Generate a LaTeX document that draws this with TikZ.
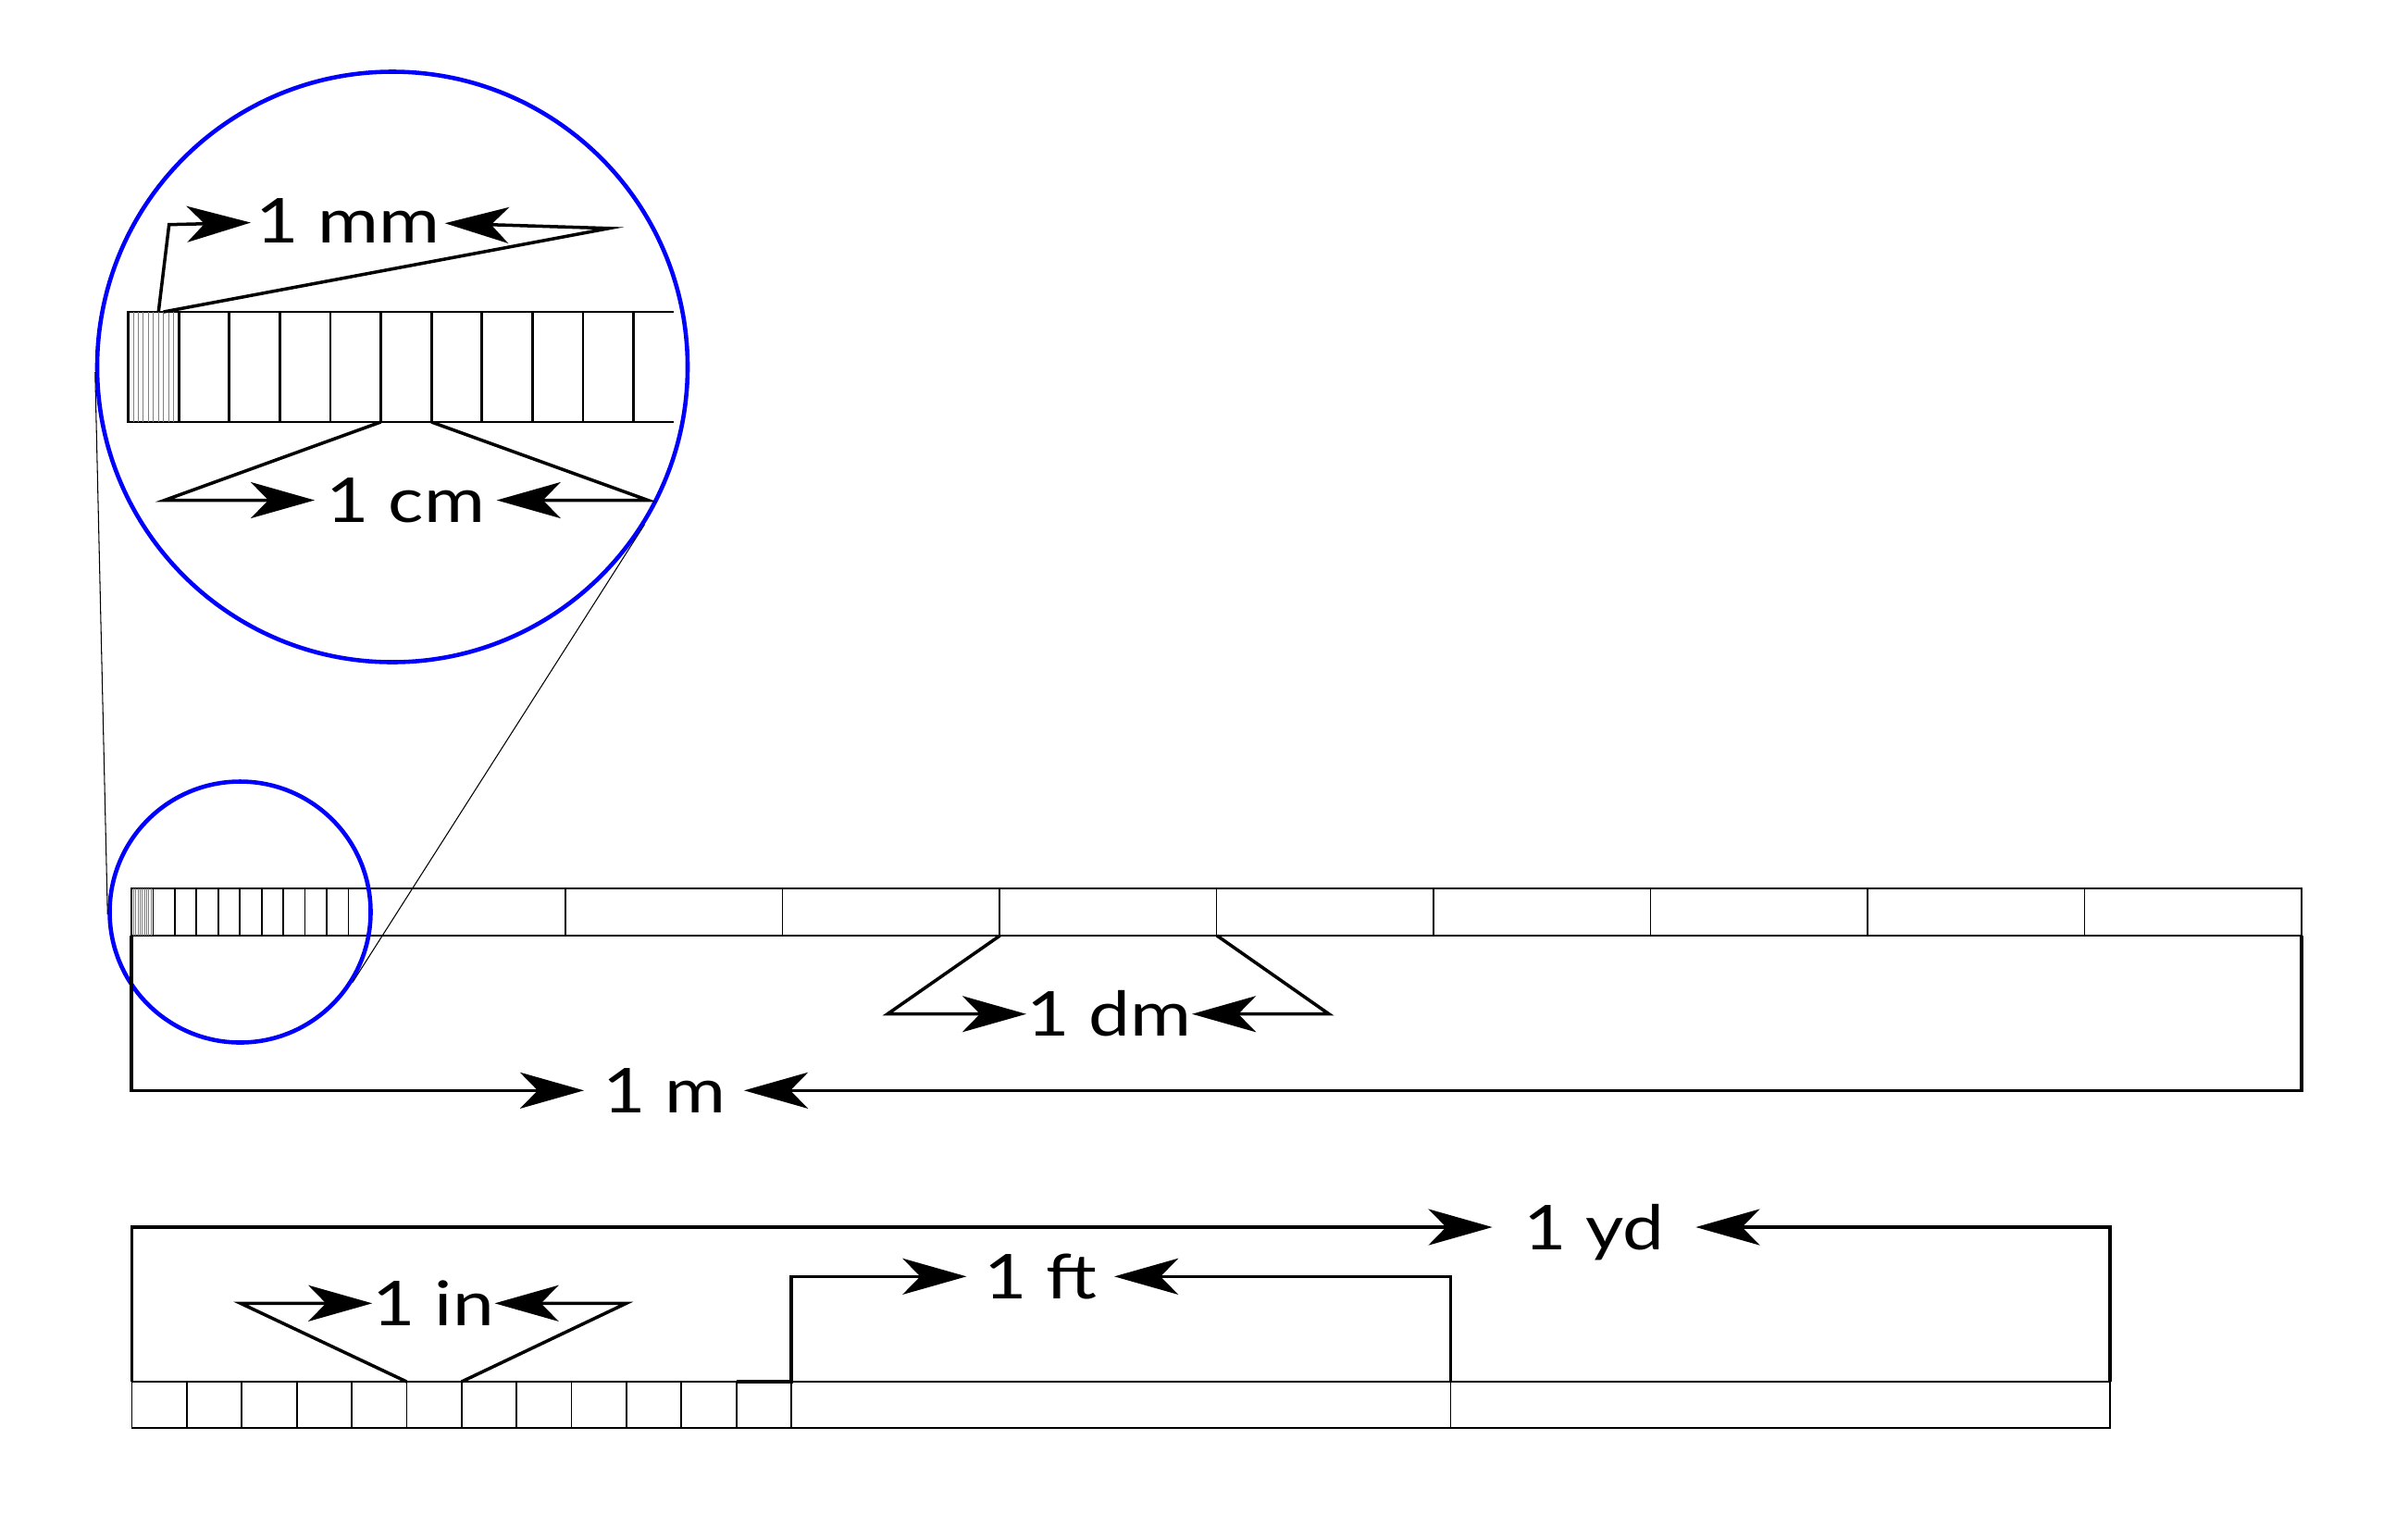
\documentclass[tikz,border=0pt]{standalone}
\usepackage{fontspec}
\setmainfont{Lato}[FakeStretch=1.2]
\usetikzlibrary{arrows.meta, calc}

\begin{document}
\begin{tikzpicture}
    \tikzstyle{bar} = [line width=0.5pt]
    \tikzstyle{fine} = [gray, line width=0.25pt]
    \tikzstyle{zoombar} = [line width=0.8pt]
    \tikzstyle{dim} = [line width=1pt, -{Stealth[length=6.9mm, width=3.9mm, inset=1.9mm]}]
    \tikzstyle{unit} = [inner sep=0pt, text height=0.48cm, text depth=0pt, font=\fontsize{19}{22}\selectfont]
    \tikzstyle{lens} = [circle, draw=blue, line width=1.3pt, inner sep=0pt]
    \tikzstyle{ray} = [line width=0.3pt]

    \useasboundingbox (0,0) rectangle (26.02,-16.62);

    % Metre bar
    \draw[bar] (1.42,-9.60) rectangle (24.87,-10.11);
    \foreach \i in {1,...,9} {
        \draw[fine] (1.42+0.02345*\i,-9.60) -- ++(0,-0.51);
        \draw[bar] (1.42+0.2345*\i,-9.60) -- ++(0,-0.51);
        \draw[bar] (1.42+2.345*\i,-9.60) -- ++(0,-0.51);
    }

    % Inch bar
    \draw[bar] (1.425,-14.93) rectangle (22.80,-15.43);
    \foreach \i in {1,...,11}
        \draw[bar] (1.425+0.59375*\i,-14.93) -- ++(0,-0.50);
    \foreach \i in {1,2}
        \draw[bar] (1.425+7.125*\i,-14.93) -- ++(0,-0.50);

    % Magnified first centimetres
    \draw[zoombar] (7.28,-3.37) -- (1.385,-3.37) -- (1.385,-4.56) -- (7.28,-4.56);
    \foreach \i in {1,...,10}
        \draw[zoombar] (1.385+0.546*\i,-3.37) -- ++(0,-1.19);
    \foreach \i in {1,...,9}
        \draw[fine] (1.385+0.0546*\i,-3.37) -- ++(0,-1.19);

    % Lenses
    \node[lens, minimum size=6.38cm] (bigc) at (4.24,-3.965) {};
    \node[lens, minimum size=2.82cm] (smallc) at (2.595,-9.855) {};
    \draw[ray] (bigc.181) -- (smallc.181);
    \draw[ray] (bigc.-32) -- (smallc.-32);

    % Labels
    \node[unit, minimum width=2.083cm] (lbl_mm) at (3.7585,-2.38) {1 mm};
    \node[unit, minimum width=1.953cm] (lbl_cm) at (4.3835,-5.405) {1 cm};
    \node[unit, minimum width=1.77cm] (lbl_dm) at (11.985,-10.957) {1 dm};
    \node[unit, minimum width=1.716cm] (lbl_m) at (7.175,-11.783) {1 m};
    \node[unit, minimum width=2.184cm] (lbl_yd) at (17.225,-13.26) {1 yd};
    \node[unit, minimum width=1.583cm] (lbl_ft) at (11.242,-13.793) {1 ft};
    \node[unit, minimum width=1.267cm] (lbl_in) at (4.684,-14.083) {1 in};

    % Bracket ends
    \coordinate (mm_a) at (1.7126,-3.37);
    \coordinate (mm_b) at (1.767,-3.37);
    \coordinate (cm_a) at (4.115,-4.56);
    \coordinate (cm_b) at (4.661,-4.56);
    \coordinate (dm_a) at (10.805,-10.11);
    \coordinate (dm_b) at (13.15,-10.11);
    \coordinate (m_a) at (1.42,-10.11);
    \coordinate (m_b) at (24.87,-10.11);
    \coordinate (yd_a) at (1.425,-14.93);
    \coordinate (yd_b) at (22.80,-14.93);
    \coordinate (ft_a) at (7.956,-14.93);
    \coordinate (ft_b) at (15.675,-14.93);
    \coordinate (in_a) at (4.394,-14.93);
    \coordinate (in_b) at (4.988,-14.93);

    % Arrows
    \draw[dim] (mm_a) -- (1.827,-2.427) -- (lbl_mm);
    \draw[dim] (mm_b) -- (6.58,-2.467) -- (lbl_mm);
    \draw[dim] (cm_a) -- (1.78,-5.405) -- (lbl_cm);
    \draw[dim] (cm_b) -- (7.00,-5.405) -- (lbl_cm);
    \draw[dim] (dm_a) -- (9.59,-10.957) -- (lbl_dm);
    \draw[dim] (dm_b) -- (14.36,-10.957) -- (lbl_dm);
    \draw[dim] (m_a) -- (m_a |- lbl_m) -- (lbl_m);
    \draw[dim] (m_b) -- (m_b |- lbl_m) -- (lbl_m);
    \draw[dim] (yd_a) -- (yd_a |- lbl_yd) -- (lbl_yd);
    \draw[dim] (yd_b) -- (yd_b |- lbl_yd) -- (lbl_yd);
    \draw[dim] (ft_a) -- (8.55,-14.93) -- (8.55,-13.793) -- (lbl_ft);
    \draw[dim] (ft_b) -- (ft_b |- lbl_ft) -- (lbl_ft);
    \draw[dim] (in_a) -- (2.60,-14.083) -- (lbl_in);
    \draw[dim] (in_b) -- (6.767,-14.083) -- (lbl_in);
\end{tikzpicture}
\end{document}
